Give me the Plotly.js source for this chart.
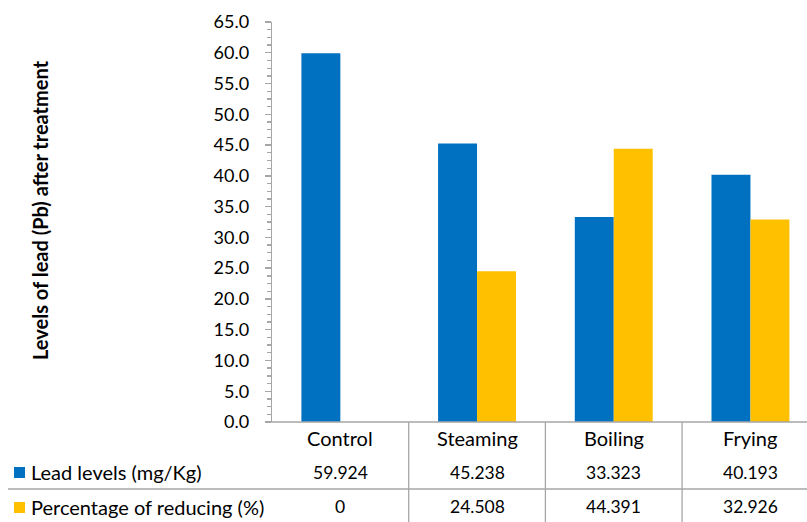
<!DOCTYPE html>
<html>
<head>
<meta charset="utf-8">
<script src="https://cdn.plot.ly/plotly-3.0.1.min.js"></script>
<style>html,body{margin:0;padding:0;background:#fff;}#chart{width:807px;height:522px;}</style>
</head>
<body>
<div id="chart"></div>
<script>
const categories = ["Control", "Steaming", "Boiling", "Frying"];
const leadLevels = [59.924, 45.238, 33.323, 40.193];
const leadLabels = ["59.924", "45.238", "33.323", "40.193"];
const reducing = [0, 24.508, 44.391, 32.926];
const reducingLabels = ["0", "24.508", "44.391", "32.926"];
const seriesNames = ["Lead levels (mg/Kg)", "Percentage of reducing (%)"];
const yTitle = "Levels of lead (Pb) after treatment";

const W = 807, H = 522, L = 272, T = 22, B = 100;
const PW = W - L, PH = H - T - B;
const px = x => (x - L) / PW;          // pixel x -> paper
const py = y => (H - B - y) / PH;      // pixel y -> paper
const FONT = "Lato, 'Open Sans', sans-serif";
const GRAY = "#a6a6a6";
const BLUE = "#0070c0", YELLOW = "#ffc000";
const TXT = 20, NUM = 17.5;

const xIdx = categories.map((c, i) => i);

const traces = [
  {type: "bar", x: xIdx, y: leadLevels, name: seriesNames[0], marker: {color: BLUE}, hoverinfo: "none"},
  {type: "bar", x: xIdx, y: reducing, name: seriesNames[1], marker: {color: YELLOW}, hoverinfo: "none"}
];

const annotations = [];
const shapes = [];
const rowY = [438, 472, 507];

categories.forEach((c, i) => {
  annotations.push({xref: "x", yref: "paper", x: i, y: py(rowY[0]), text: c, showarrow: false,
    xanchor: "center", yanchor: "middle", font: {family: FONT, size: TXT, color: "#000"}});
  annotations.push({xref: "x", yref: "paper", x: i, y: py(rowY[1]), text: leadLabels[i], showarrow: false,
    xanchor: "center", yanchor: "middle", font: {family: FONT, size: NUM, color: "#000"}});
  annotations.push({xref: "x", yref: "paper", x: i, y: py(rowY[2]), text: reducingLabels[i], showarrow: false,
    xanchor: "center", yanchor: "middle", font: {family: FONT, size: NUM, color: "#000"}});
});

[seriesNames[0], seriesNames[1]].forEach((n, k) => {
  annotations.push({xref: "paper", yref: "paper", x: px(29), y: py(rowY[k + 1]), text: n, showarrow: false,
    xanchor: "left", yanchor: "middle", font: {family: FONT, size: TXT, color: "#000"}});
  const yc = rowY[k + 1];
  shapes.push({type: "rect", xref: "paper", yref: "paper", x0: px(14), x1: px(25), y0: py(yc - 5), y1: py(yc + 6),
    fillcolor: k === 0 ? BLUE : YELLOW, line: {width: 0}});
});

annotations.push({xref: "paper", yref: "paper", x: px(40), y: py(210), text: "<b>" + yTitle + "</b>", textangle: -90,
  showarrow: false, xanchor: "center", yanchor: "middle", font: {family: FONT, size: TXT, color: "#000"}});

// table grid
[0.5, 1.5, 2.5].forEach(b => {
  shapes.push({type: "line", xref: "x", yref: "paper", x0: b, x1: b, y0: 0, y1: py(H), line: {color: GRAY, width: 1.3}});
});
shapes.push({type: "line", xref: "paper", yref: "paper", x0: px(8), x1: 1, y0: py(489), y1: py(489), line: {color: GRAY, width: 1.3}});
shapes.push({type: "line", xref: "paper", yref: "paper", x0: px(265), x1: 1, y0: 0, y1: 0, line: {color: GRAY, width: 1.3}});

const layout = {
  width: W, height: H,
  margin: {l: L, r: 0, t: T, b: B, pad: 0},
  paper_bgcolor: "#fff", plot_bgcolor: "#fff",
  showlegend: false,
  barmode: "group", bargap: 0.43, bargroupgap: 0,
  xaxis: {range: [-0.5, -0.5 + PW / 136.7], showticklabels: false, ticks: "", showgrid: false, zeroline: false,
    showline: false, fixedrange: true},
  yaxis: {range: [0, 65], dtick: 5, tick0: 0, tickformat: ".1f", showgrid: false, zeroline: false,
    showline: true, linecolor: GRAY, linewidth: 1.3, ticks: "outside", ticklen: 6, tickcolor: GRAY, tickwidth: 1.3,
    ticklabelstandoff: 12,
    minor: {dtick: 1.25, ticks: "outside", ticklen: 4, tickcolor: GRAY, tickwidth: 1.3, showgrid: false},
    tickfont: {family: FONT, size: 18, color: "#000"}, fixedrange: true},
  annotations: annotations,
  shapes: shapes
};

Plotly.newPlot("chart", traces, layout, {displayModeBar: false, staticPlot: true});
</script>
</body>
</html>
